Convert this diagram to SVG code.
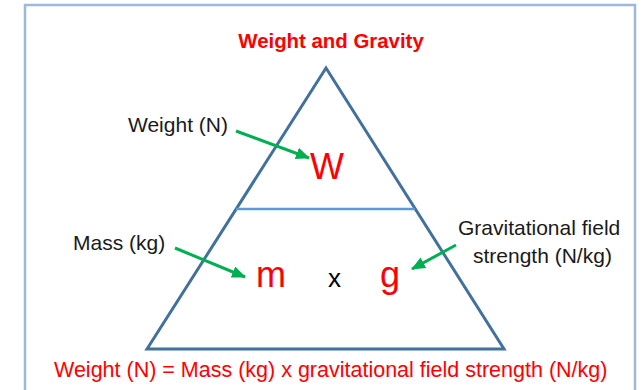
<svg xmlns="http://www.w3.org/2000/svg" width="644" height="390" viewBox="0 0 644 390">
<style>
  .lbl { font-family: "Liberation Sans", Arial, sans-serif; font-size: 21px; fill: #1a1a1a; }
  .red { fill: #FF0000; }
  .big { font-family: "Liberation Sans", Arial, sans-serif; font-size: 36px; }
  .arrow { stroke: #00B050; stroke-width: 3; fill: none; marker-end: url(#ah); }
</style>
<defs>
  <marker id="ah" markerUnits="userSpaceOnUse" markerWidth="16" markerHeight="14" refX="13" refY="6" orient="auto">
    <path d="M0,0 L14,6 L0,12 Z" fill="#00B050"/>
  </marker>
</defs>
<rect x="0" y="0" width="644" height="390" fill="#FFFFFF"/>
<rect x="25" y="5" width="610" height="400" fill="none" stroke="#9CB8DA" stroke-width="2.5"/>
<g id="title">
  <text x="331" y="48" text-anchor="middle" font-family="Liberation Sans, Arial, sans-serif" font-size="20.4" font-weight="bold" fill="#FF0000">Weight and Gravity</text>
</g>
<g id="triangle">
  <polygon points="326,68 504,349 147,349" fill="none" stroke="#41719C" stroke-width="3" stroke-linejoin="miter"/>
  <line x1="236" y1="209" x2="415" y2="209" stroke="#5B9BD5" stroke-width="2.5"/>
</g>
<g id="W">
  <text x="310" y="179" class="big red">W</text>
</g>
<g id="m">
  <text x="256" y="287" class="big red">m</text>
</g>
<g id="x">
  <text x="328" y="287" font-family="Liberation Sans, Arial, sans-serif" font-size="26" fill="#000000">x</text>
</g>
<g id="g">
  <text x="380" y="287" class="big red">g</text>
</g>
<g id="weight-label">
  <text x="128" y="132" class="lbl">Weight (N)</text>
</g>
<g id="mass-label">
  <text x="73" y="250" class="lbl">Mass (kg)</text>
</g>
<g id="gfs-label">
  <text x="458" y="235" class="lbl">Gravitational field</text>
  <text x="473" y="263" class="lbl">strength (N/kg)</text>
</g>
<g id="formula">
  <text x="54" y="377" font-family="Liberation Sans, Arial, sans-serif" font-size="21.5" fill="#FF0000">Weight (N) = Mass (kg) x gravitational field strength (N/kg)</text>
</g>
<g id="connectors">
  <line class="arrow" x1="236" y1="131" x2="309" y2="158"/>
  <line class="arrow" x1="175" y1="248" x2="245" y2="277"/>
  <line class="arrow" x1="456" y1="245" x2="412" y2="269"/>
</g>
</svg>
